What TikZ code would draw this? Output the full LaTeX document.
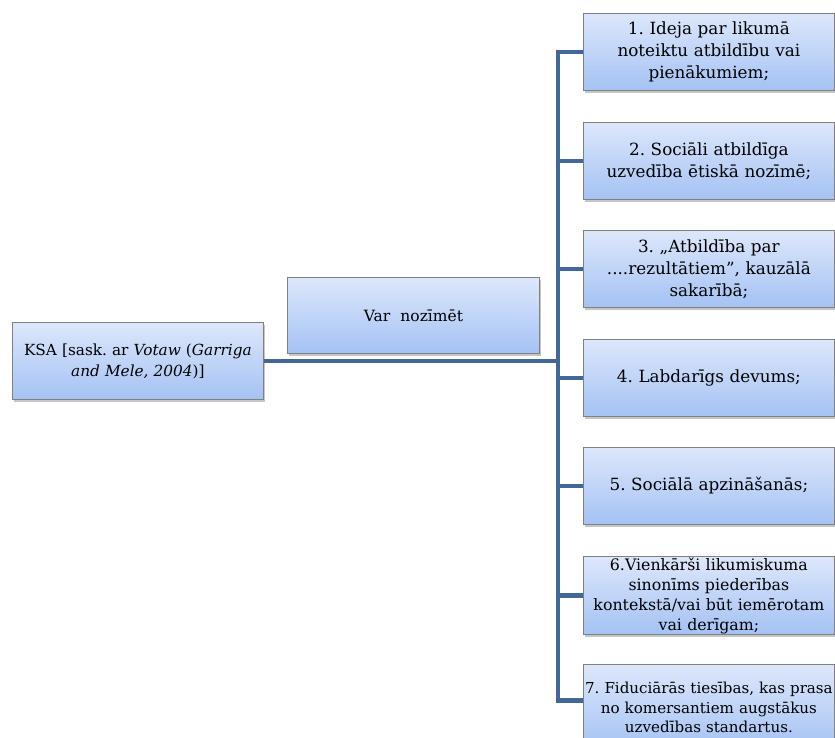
\documentclass[tikz,border=0pt]{standalone}
\usepackage{fontspec}
\setmainfont{DejaVu Serif}
\usetikzlibrary{shadows}
\definecolor{conn}{HTML}{41679B}
\definecolor{boxtop}{HTML}{DDE7FB}
\definecolor{boxbot}{HTML}{A4C2F4}
\definecolor{boxedge}{HTML}{808080}
\tikzset{
  box/.style={draw=boxedge, line width=0.8pt, top color=boxtop, bottom color=boxbot,
    drop shadow={shadow xshift=2pt, shadow yshift=-2.5pt, opacity=0.45},
    anchor=north west, align=center, inner sep=1pt},
  rbox/.style={box, minimum width=251pt, minimum height=77pt, text width=249pt,
    font=\fontsize{16.8}{22}\selectfont},
  sbox/.style={box, minimum width=251pt, minimum height=77pt, text width=249pt,
    font=\fontsize{15.8}{20}\selectfont},
  cline/.style={draw=conn, line width=4.5pt}
}
\begin{document}
\frenchspacing
\begin{tikzpicture}[x=1pt,y=-1pt]
\useasboundingbox (0,0) rectangle (835,737);
\node[box, minimum width=251pt, minimum height=77pt, text width=249pt,
  font=\fontsize{15.3}{21}\selectfont] (ksa) at (12,322)
  {KSA [sask. ar \textit{Votaw} (\textit{Garriga}\\ \textit{and Mele, 2004})]};
\node[box, minimum width=252pt, minimum height=76pt, text width=249pt,
  font=\fontsize{15.5}{20}\selectfont] (var) at (287,277) {Var\ \ nozīmēt};
\node[rbox] (b1) at (583,13) {1. Ideja par likumā\\ noteiktu atbildību vai\\ pienākumiem;};
\node[rbox] (b2) at (583,122) {2. Sociāli atbildīga\\ uzvedība ētiskā nozīmē;};
\node[rbox] (b3) at (583,230) {3. „Atbildība par\\ ....rezultātiem”, kauzālā\\ sakarībā;};
\node[rbox] (b4) at (583,339) {4. Labdarīgs devums;};
\node[rbox] (b5) at (583,447) {5. Sociālā apzināšanās;};
\node[sbox] (b6) at (583,556) {6.Vienkārši likumiskuma\\ sinonīms piederības\\ kontekstā/vai būt iemērotam\\ vai derīgam;};
\node[sbox, minimum height=86pt, font=\fontsize{15.1}{19.5}\selectfont] (b7) at (583,664)
  {7. Fiduciārās tiesības, kas prasa\\ no komersantiem augstākus\\ uzvedības standartus.};
\coordinate (t) at (558,0);
\coordinate (c7) at ([yshift=7pt]b7.west);
\draw[cline] (ksa.east) -- (ksa.east -| t);
\draw[cline] (b1.west) -- (b1.west -| t) -- (c7 -| t) -- (c7);
\foreach \n in {b2,b3,b4,b5,b6} { \draw[cline] (\n.west -| t) -- (\n.west); }
\end{tikzpicture}
\end{document}
